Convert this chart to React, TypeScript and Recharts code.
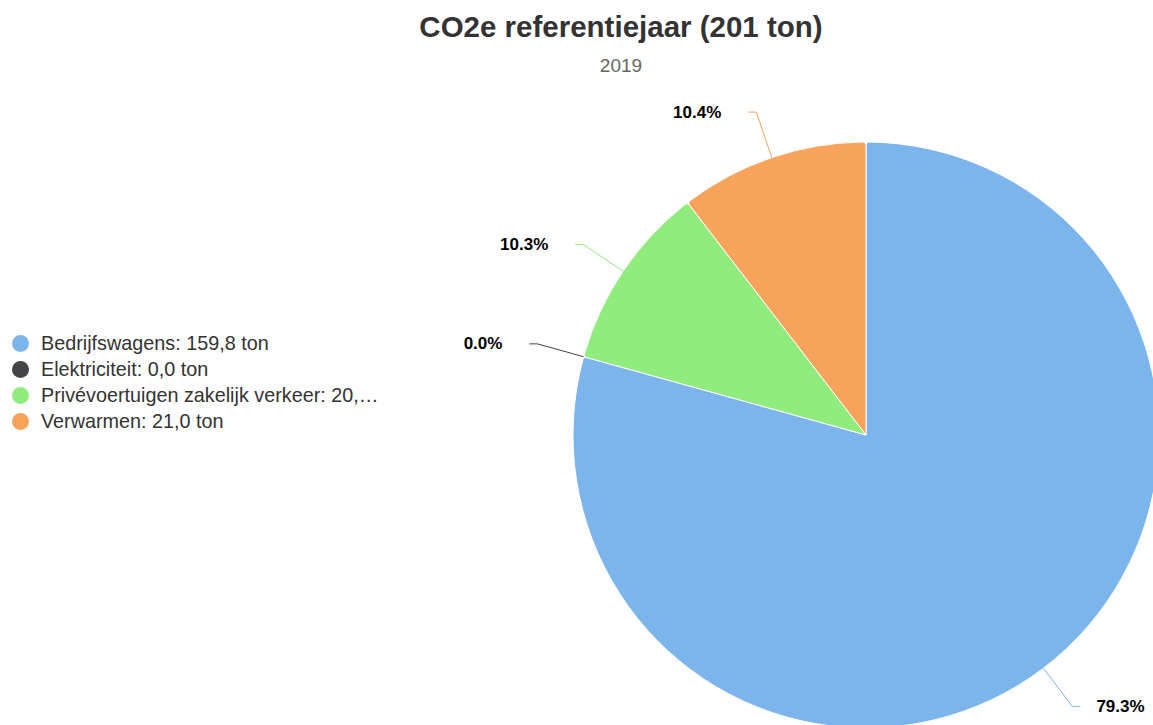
import React from "react";
import { PieChart, Pie, Cell, Legend } from "recharts";

const categories = [
  "Bedrijfswagens",
  "Elektriciteit",
  "Privévoertuigen zakelijk verkeer",
  "Verwarmen",
];
const tons = [159.8, 0.0, 20.7, 21.0];
const colors = ["#7cb5ec", "#434348", "#90ed7d", "#f7a35c"];

const data = categories.map((name, i) => ({ name, value: tons[i] }));

const FONT = '"Liberation Sans", Arial, Helvetica, sans-serif';
const RAD = Math.PI / 180;

const renderLabel = (props: any) => {
  const { cx, cy, midAngle, outerRadius, percent, index } = props;
  const cos = Math.cos(-midAngle * RAD);
  const sin = Math.sin(-midAngle * RAD);
  const sx = cx + outerRadius * cos;
  const sy = cy + outerRadius * sin;
  const ex = cx + (outerRadius + 48) * cos;
  const ey = cy + (outerRadius + 48) * sin;
  const right = cos >= 0;
  const hx = ex + (right ? 8 : -8);
  const tx = right ? hx + 16 : hx - 27;
  return (
    <g>
      <path
        d={`M${sx},${sy}L${ex},${ey}L${hx},${ey}`}
        stroke={colors[index]}
        fill="none"
        strokeWidth={1}
      />
      <text
        x={tx}
        y={ey}
        textAnchor={right ? "start" : "end"}
        dominantBaseline="central"
        fontFamily={FONT}
        fontSize={17}
        fontWeight="bold"
        fill="#000000"
      >
        {(percent * 100).toFixed(1)}%
      </text>
    </g>
  );
};

const LegendList = () => (
  <div style={{ fontFamily: FONT, fontSize: 19.8, color: "#333333" }}>
    {data.map((d, i) => (
      <div
        key={d.name}
        style={{ height: 26, display: "flex", alignItems: "center" }}
      >
        <span
          style={{
            display: "inline-block",
            width: 17,
            height: 17,
            borderRadius: "50%",
            background: colors[i],
            marginRight: 12,
            flexShrink: 0,
          }}
        />
        <span
          style={{
            display: "inline-block",
            maxWidth: 342,
            whiteSpace: "nowrap",
            overflow: "hidden",
            textOverflow: "ellipsis",
          }}
        >
          {d.name}: {d.value.toFixed(1).replace(".", ",")} ton
        </span>
      </div>
    ))}
  </div>
);

export default function App() {
  return (
    <div style={{ position: "relative", width: 1153, height: 725 }}>
      <style>{`body{margin:0}`}</style>
      <svg
        width={1153}
        height={90}
        style={{ position: "absolute", left: 0, top: 0, pointerEvents: "none" }}
      >
        <text
          x={621}
          y={37}
          textAnchor="middle"
          fontFamily={FONT}
          fontSize={29.5}
          fontWeight="bold"
          fill="#333333"
        >
          CO2e referentiejaar (201 ton)
        </text>
        <text
          x={621}
          y={72}
          textAnchor="middle"
          fontFamily={FONT}
          fontSize={19}
          fill="#666666"
        >
          2019
        </text>
      </svg>
      <PieChart
        width={1153}
        height={725}
        margin={{ top: 0, right: 0, bottom: 0, left: 0 }}
      >
        <Pie
          data={data}
          dataKey="value"
          nameKey="name"
          cx={866}
          cy={435}
          outerRadius={293}
          startAngle={90}
          endAngle={-270}
          stroke="#ffffff"
          strokeWidth={1}
          cornerRadius={3}
          label={renderLabel}
          labelLine={false}
          isAnimationActive={false}
        >
          {data.map((d, i) => (
            <Cell key={d.name} fill={colors[i]} />
          ))}
        </Pie>
        <Legend
          content={<LegendList />}
          wrapperStyle={{ left: 12, top: 330, width: 400 }}
        />
      </PieChart>
    </div>
  );
}
